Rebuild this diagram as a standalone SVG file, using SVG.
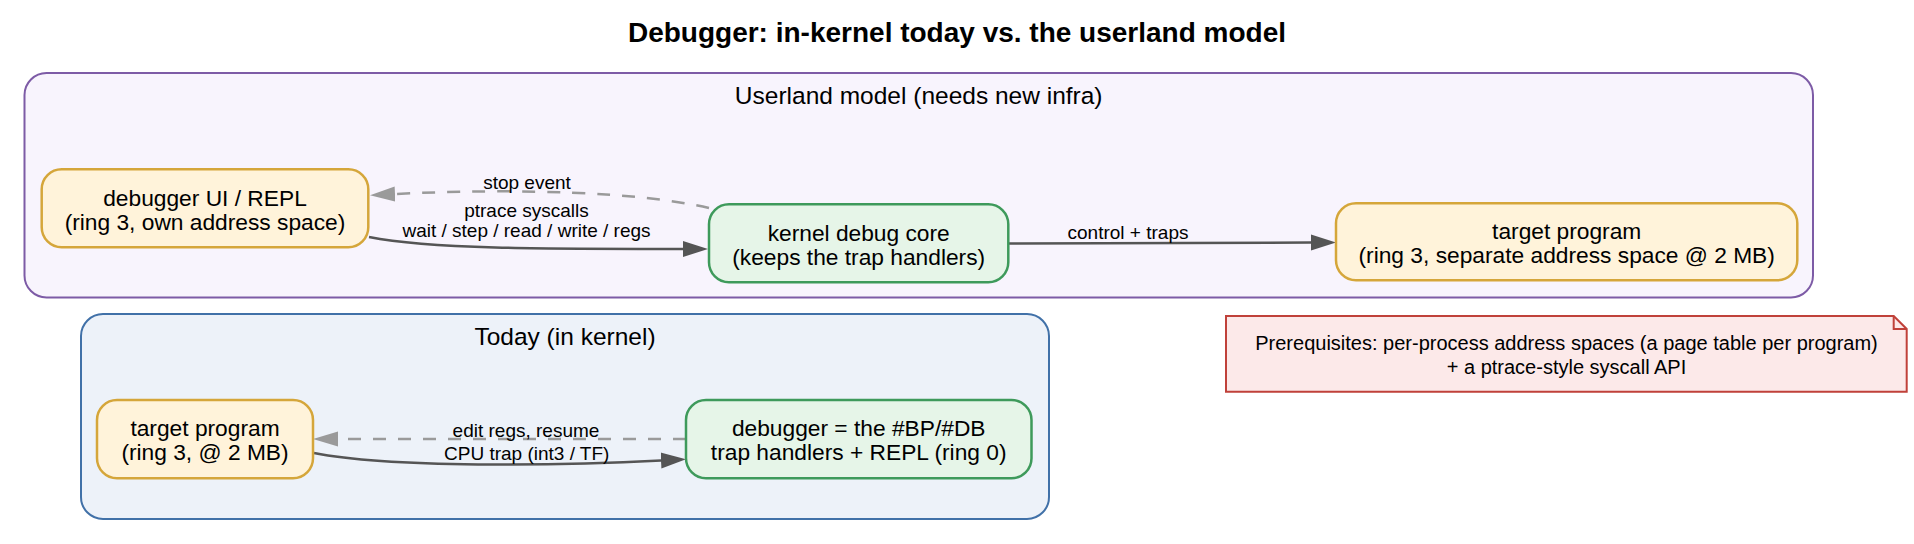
<svg xmlns="http://www.w3.org/2000/svg" width="1914" height="544" viewBox="0 0 1914 544">
<defs>
<style>
text { font-family: "Liberation Sans", Arial, Helvetica, sans-serif; fill: #000; text-anchor: middle; }
.title { font-size: 28px; font-weight: bold; }
.clabel { font-size: 24.5px; }
.ntext { font-size: 22.75px; }
.elabel { font-size: 19px; }
.notetext { font-size: 20px; }
.cl-user { fill: #f8f4fd; stroke: #7d5ba6; stroke-width: 2; }
.cl-today { fill: #edf2f9; stroke: #4171a8; stroke-width: 2; }
.n-yellow { fill: #fff3da; stroke: #d5a63a; stroke-width: 2.5; }
.n-green { fill: #e6f5e8; stroke: #3e9a5b; stroke-width: 2.5; }
.note { fill: #fce9e9; stroke: #c0413a; stroke-width: 2; }
.fold { fill: none; stroke: #c0413a; stroke-width: 2; }
.e-solid { fill: none; stroke: #555555; stroke-width: 2.5; marker-end: url(#arrow-solid); }
.e-dash { fill: none; stroke: #9a9a9a; stroke-width: 2.5; stroke-dasharray: 13 12; marker-end: url(#arrow-dash); }
</style>
<marker id="arrow-solid" markerUnits="userSpaceOnUse" markerWidth="26" markerHeight="18" viewBox="0 0 26 18" refX="0" refY="9" orient="auto"><path d="M0,1 L25,9 L0,17 z" fill="#555555"/></marker>
<marker id="arrow-dash" markerUnits="userSpaceOnUse" markerWidth="26" markerHeight="18" viewBox="0 0 26 18" refX="0" refY="9" orient="auto"><path d="M0,1.5 L25,9 L0,16.5 z" fill="#9a9a9a"/></marker>
</defs>
<rect x="0" y="0" width="1914" height="544" fill="#ffffff"/>
<text class="title" x="957" y="41.7">Debugger: in-kernel today vs. the userland model</text>

<g id="cluster-userland">
<rect class="cl-user" x="24.5" y="73" width="1788.5" height="224.5" rx="22" ry="22"/>
<text class="clabel" x="918.7" y="104">Userland model (needs new infra)</text>
</g>
<g id="cluster-today">
<rect class="cl-today" x="81" y="314" width="968" height="205" rx="22" ry="22"/>
<text class="clabel" x="565" y="345">Today (in kernel)</text>
</g>

<g id="connectors">
<path id="e-stop" class="e-dash" d="M709,208 C640,192 520,188 395,194"/>
<path id="e-ptrace" class="e-solid" d="M369,237 C430,249 540,249 683,249"/>
<path id="e-control" class="e-solid" d="M1008,243.5 L1311,242.5"/>
<path id="e-edit" class="e-dash" d="M686,439 L338,439"/>
<path id="e-cpu" class="e-solid" d="M314,453 C390,468 560,466 661,460.5"/>
<text class="elabel" x="527" y="189">stop event</text>
<text class="elabel" x="526.5" y="216.5">ptrace syscalls</text>
<text class="elabel" x="526.5" y="236.5">wait / step / read / write / regs</text>
<text class="elabel" x="1128" y="238.5">control + traps</text>
<text class="elabel" x="526" y="436.5">edit regs, resume</text>
<text class="elabel" x="526.7" y="460">CPU trap (int3 / TF)</text>
</g>

<g id="node-debugger-ui">
<rect class="n-yellow" x="41.7" y="169.3" width="326.6" height="78" rx="20" ry="20"/>
<text class="ntext" x="205" y="205.8">debugger UI / REPL</text>
<text class="ntext" x="205" y="229.8">(ring 3, own address space)</text>
</g>
<g id="node-kernel-core">
<rect class="n-green" x="709" y="204.3" width="299.3" height="78" rx="20" ry="20"/>
<text class="ntext" x="858.7" y="240.8">kernel debug core</text>
<text class="ntext" x="858.7" y="264.8">(keeps the trap handlers)</text>
</g>
<g id="node-target-userland">
<rect class="n-yellow" x="1336" y="203.3" width="461.3" height="77" rx="20" ry="20"/>
<text class="ntext" x="1566.7" y="238.8">target program</text>
<text class="ntext" x="1566.7" y="262.8">(ring 3, separate address space @ 2 MB)</text>
</g>
<g id="node-target-today">
<rect class="n-yellow" x="97" y="400" width="216" height="78.3" rx="20" ry="20"/>
<text class="ntext" x="205" y="436.2">target program</text>
<text class="ntext" x="205" y="460.2">(ring 3, @ 2 MB)</text>
</g>
<g id="node-debugger-today">
<rect class="n-green" x="686" y="400" width="345.5" height="78.3" rx="20" ry="20"/>
<text class="ntext" x="858.7" y="436.2">debugger = the #BP/#DB</text>
<text class="ntext" x="858.7" y="460.2">trap handlers + REPL (ring 0)</text>
</g>
<g id="node-prereq">
<path class="note" d="M1226,316 L1893.7,316 L1906.7,329 L1906.7,391.7 L1226,391.7 Z"/>
<path class="fold" d="M1893.7,316 L1893.7,329 L1906.7,329"/>
<text class="notetext" x="1566.5" y="350">Prerequisites: per-process address spaces (a page table per program)</text>
<text class="notetext" x="1566.5" y="374">+ a ptrace-style syscall API</text>
</g>
</svg>
